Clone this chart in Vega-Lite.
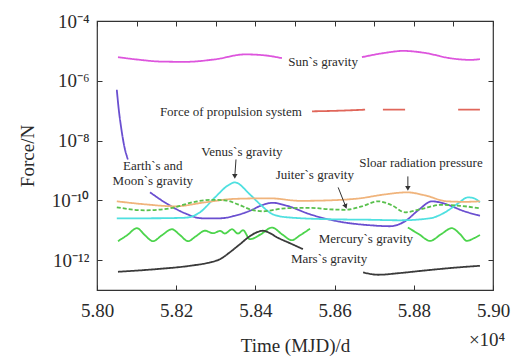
{
  "$schema": "https://vega.github.io/schema/vega-lite/v6.json",
  "width": 396,
  "height": 269,
  "autosize": {"type": "none"},
  "padding": {"left": 97, "top": 21, "right": 24, "bottom": 68},
  "background": "white",
  "config": {
    "view": {"stroke": "#333333", "strokeWidth": 1.2},
    "font": "Liberation Serif",
    "axis": {
      "grid": false,
      "domain": false,
      "tickColor": "#333333",
      "tickWidth": 1,
      "tickSize": -5,
      "labelFont": "Liberation Serif",
      "labelFontSize": 19,
      "labelColor": "#2a2a2a",
      "labelFlush": false,
      "titleFont": "Liberation Serif",
      "titleFontSize": 19,
      "titleFontWeight": "normal",
      "titleColor": "#2a2a2a"
    }
  },
  "datasets": {
    "curves": [
      {"s":"Sun","g":"s1","t":58053,"F":6.17e-6},{"s":"Sun","g":"s1","t":58109,"F":5.01e-6},{"s":"Sun","g":"s1","t":58159,"F":4.40e-6},{"s":"Sun","g":"s1","t":58222,"F":4.30e-6},{"s":"Sun","g":"s1","t":58298,"F":5.21e-6},{"s":"Sun","g":"s1","t":58374,"F":7.64e-6},{"s":"Sun","g":"s1","t":58424,"F":7.08e-6},{"s":"Sun","g":"s1","t":58467,"F":5.71e-6},
      {"s":"Sun","g":"s2","t":58669,"F":6.17e-6},{"s":"Sun","g":"s2","t":58727,"F":8.57e-6},{"s":"Sun","g":"s2","t":58773,"F":1.0e-5},{"s":"Sun","g":"s2","t":58828,"F":8.57e-6},{"s":"Sun","g":"s2","t":58891,"F":5.71e-6},{"s":"Sun","g":"s2","t":58942,"F":5.01e-6},{"s":"Sun","g":"s2","t":58967,"F":5.28e-6},
      {"s":"Propulsion","g":"p1","t":58543,"F":9.5e-8},{"s":"Propulsion","g":"p1","t":58614,"F":1.0e-7},{"s":"Propulsion","g":"p1","t":58677,"F":1.08e-7},
      {"s":"Propulsion","g":"p2","t":58722,"F":1.08e-7},{"s":"Propulsion","g":"p2","t":58778,"F":1.08e-7},
      {"s":"Propulsion","g":"p3","t":58912,"F":1.08e-7},{"s":"Propulsion","g":"p3","t":58967,"F":1.08e-7},
      {"s":"EarthMoon","g":"e1","t":58050,"F":5.0e-7},{"s":"EarthMoon","g":"e1","t":58055,"F":1.08e-7},{"s":"EarthMoon","g":"e1","t":58061,"F":2.71e-8},{"s":"EarthMoon","g":"e1","t":58068,"F":7.36e-9},{"s":"EarthMoon","g":"e1","t":58078,"F":2.33e-9},
      {"s":"EarthMoon","g":"e2","t":58134,"F":1.85e-10},{"s":"EarthMoon","g":"e2","t":58179,"F":7.36e-11},{"s":"EarthMoon","g":"e2","t":58222,"F":3.69e-11},{"s":"EarthMoon","g":"e2","t":58265,"F":2.51e-11},{"s":"EarthMoon","g":"e2","t":58311,"F":2.51e-11},{"s":"EarthMoon","g":"e2","t":58348,"F":3.04e-11},{"s":"EarthMoon","g":"e2","t":58386,"F":4.47e-11},{"s":"EarthMoon","g":"e2","t":58419,"F":7.08e-11},{"s":"EarthMoon","g":"e2","t":58444,"F":8.26e-11},{"s":"EarthMoon","g":"e2","t":58480,"F":6.56e-11},{"s":"EarthMoon","g":"e2","t":58538,"F":3.41e-11},{"s":"EarthMoon","g":"e2","t":58614,"F":1.92e-11},{"s":"EarthMoon","g":"e2","t":58689,"F":1.47e-11},{"s":"EarthMoon","g":"e2","t":58740,"F":1.36e-11},{"s":"EarthMoon","g":"e2","t":58778,"F":2.0e-11},{"s":"EarthMoon","g":"e2","t":58811,"F":4.64e-11},{"s":"EarthMoon","g":"e2","t":58846,"F":9.26e-11},{"s":"EarthMoon","g":"e2","t":58879,"F":7.64e-11},{"s":"EarthMoon","g":"e2","t":58924,"F":4.47e-11},{"s":"EarthMoon","g":"e2","t":58967,"F":3.04e-11},
      {"s":"Venus","g":"v1","t":58050,"F":2.51e-11},{"s":"Venus","g":"v1","t":58134,"F":2.51e-11},{"s":"Venus","g":"v1","t":58222,"F":2.61e-11},{"s":"Venus","g":"v1","t":58260,"F":3.98e-11},{"s":"Venus","g":"v1","t":58298,"F":1.26e-10},{"s":"Venus","g":"v1","t":58331,"F":3.16e-10},{"s":"Venus","g":"v1","t":58348,"F":3.98e-10},{"s":"Venus","g":"v1","t":58386,"F":1.58e-10},{"s":"Venus","g":"v1","t":58412,"F":7.36e-11},{"s":"Venus","g":"v1","t":58444,"F":3.41e-11},{"s":"Venus","g":"v1","t":58480,"F":2.71e-11},{"s":"Venus","g":"v1","t":58588,"F":2.33e-11},{"s":"Venus","g":"v1","t":58689,"F":2.24e-11},{"s":"Venus","g":"v1","t":58765,"F":2.15e-11},{"s":"Venus","g":"v1","t":58841,"F":2.51e-11},{"s":"Venus","g":"v1","t":58879,"F":3.98e-11},{"s":"Venus","g":"v1","t":58912,"F":7.94e-11},{"s":"Venus","g":"v1","t":58937,"F":1.26e-10},{"s":"Venus","g":"v1","t":58952,"F":1.17e-10},{"s":"Venus","g":"v1","t":58967,"F":8.58e-11},
      {"s":"Solar","g":"r1","t":58050,"F":9.26e-11},{"s":"Solar","g":"r1","t":58121,"F":7.36e-11},{"s":"Solar","g":"r1","t":58197,"F":6.31e-11},{"s":"Solar","g":"r1","t":58273,"F":8.58e-11},{"s":"Solar","g":"r1","t":58348,"F":1.12e-10},{"s":"Solar","g":"r1","t":58437,"F":1.17e-10},{"s":"Solar","g":"r1","t":58513,"F":9.62e-11},{"s":"Solar","g":"r1","t":58588,"F":1.0e-10},{"s":"Solar","g":"r1","t":58664,"F":1.17e-10},{"s":"Solar","g":"r1","t":58727,"F":1.58e-10},{"s":"Solar","g":"r1","t":58783,"F":1.85e-10},{"s":"Solar","g":"r1","t":58828,"F":1.47e-10},{"s":"Solar","g":"r1","t":58884,"F":9.26e-11},{"s":"Solar","g":"r1","t":58929,"F":8.91e-11},{"s":"Solar","g":"r1","t":58967,"F":9.26e-11},
      {"s":"Jupiter","g":"j1","t":58050,"F":5.85e-11},{"s":"Jupiter","g":"j1","t":58121,"F":4.64e-11},{"s":"Jupiter","g":"j1","t":58184,"F":5.41e-11},{"s":"Jupiter","g":"j1","t":58247,"F":8.91e-11},{"s":"Jupiter","g":"j1","t":58285,"F":1.04e-10},{"s":"Jupiter","g":"j1","t":58323,"F":1.0e-10},{"s":"Jupiter","g":"j1","t":58356,"F":7.36e-11},{"s":"Jupiter","g":"j1","t":58386,"F":5.01e-11},{"s":"Jupiter","g":"j1","t":58419,"F":4.30e-11},{"s":"Jupiter","g":"j1","t":58475,"F":5.41e-11},{"s":"Jupiter","g":"j1","t":58538,"F":5.62e-11},{"s":"Jupiter","g":"j1","t":58588,"F":5.01e-11},{"s":"Jupiter","g":"j1","t":58626,"F":4.82e-11},{"s":"Jupiter","g":"j1","t":58669,"F":6.31e-11},{"s":"Jupiter","g":"j1","t":58710,"F":9.26e-11},{"s":"Jupiter","g":"j1","t":58745,"F":6.81e-11},{"s":"Jupiter","g":"j1","t":58778,"F":3.98e-11},{"s":"Jupiter","g":"j1","t":58816,"F":5.01e-11},{"s":"Jupiter","g":"j1","t":58871,"F":7.08e-11},{"s":"Jupiter","g":"j1","t":58917,"F":6.56e-11},{"s":"Jupiter","g":"j1","t":58967,"F":5.41e-11},
      {"s":"Mercury","g":"m1","t":58053,"F":4.30e-12},{"s":"Mercury","g":"m1","t":58076,"F":6.81e-12},{"s":"Mercury","g":"m1","t":58101,"F":1.17e-11},{"s":"Mercury","g":"m1","t":58121,"F":6.81e-12},{"s":"Mercury","g":"m1","t":58141,"F":4.30e-12},{"s":"Mercury","g":"m1","t":58164,"F":6.81e-12},{"s":"Mercury","g":"m1","t":58189,"F":1.08e-11},{"s":"Mercury","g":"m1","t":58210,"F":6.81e-12},{"s":"Mercury","g":"m1","t":58230,"F":4.30e-12},{"s":"Mercury","g":"m1","t":58250,"F":6.31e-12},{"s":"Mercury","g":"m1","t":58273,"F":9.62e-12},{"s":"Mercury","g":"m1","t":58293,"F":7.94e-12},{"s":"Mercury","g":"m1","t":58311,"F":9.48e-12},{"s":"Mercury","g":"m1","t":58323,"F":7.76e-12},{"s":"Mercury","g":"m1","t":58341,"F":1.08e-11},{"s":"Mercury","g":"m1","t":58356,"F":7.76e-12},{"s":"Mercury","g":"m1","t":58369,"F":1.0e-11},{"s":"Mercury","g":"m1","t":58386,"F":5.01e-12},{"s":"Mercury","g":"m1","t":58414,"F":7.36e-12},{"s":"Mercury","g":"m1","t":58442,"F":1.23e-11},{"s":"Mercury","g":"m1","t":58467,"F":7.36e-12},{"s":"Mercury","g":"m1","t":58492,"F":4.64e-12},{"s":"Mercury","g":"m1","t":58513,"F":6.81e-12},{"s":"Mercury","g":"m1","t":58538,"F":1.12e-11},
      {"s":"Mercury","g":"m2","t":58785,"F":1.23e-11},{"s":"Mercury","g":"m2","t":58813,"F":7.36e-12},{"s":"Mercury","g":"m2","t":58841,"F":4.40e-12},{"s":"Mercury","g":"m2","t":58869,"F":7.36e-12},{"s":"Mercury","g":"m2","t":58896,"F":1.17e-11},{"s":"Mercury","g":"m2","t":58917,"F":7.36e-12},{"s":"Mercury","g":"m2","t":58934,"F":4.40e-12},{"s":"Mercury","g":"m2","t":58952,"F":5.41e-12},{"s":"Mercury","g":"m2","t":58967,"F":6.97e-12},
      {"s":"Mars","g":"a1","t":58053,"F":4.07e-13},{"s":"Mars","g":"a1","t":58151,"F":5.01e-13},{"s":"Mars","g":"a1","t":58235,"F":6.46e-13},{"s":"Mars","g":"a1","t":58285,"F":8.38e-13},{"s":"Mars","g":"a1","t":58311,"F":1.08e-12},{"s":"Mars","g":"a1","t":58336,"F":1.85e-12},{"s":"Mars","g":"a1","t":58361,"F":3.41e-12},{"s":"Mars","g":"a1","t":58386,"F":6.31e-12},{"s":"Mars","g":"a1","t":58404,"F":8.58e-12},{"s":"Mars","g":"a1","t":58419,"F":9.62e-12},{"s":"Mars","g":"a1","t":58437,"F":7.94e-12},{"s":"Mars","g":"a1","t":58454,"F":5.85e-12},{"s":"Mars","g":"a1","t":58487,"F":3.69e-12},{"s":"Mars","g":"a1","t":58520,"F":2.33e-12},
      {"s":"Mars","g":"a2","t":58672,"F":3.89e-13},{"s":"Mars","g":"a2","t":58710,"F":3.24e-13},{"s":"Mars","g":"a2","t":58765,"F":3.69e-13},{"s":"Mars","g":"a2","t":58821,"F":4.40e-13},{"s":"Mars","g":"a2","t":58891,"F":5.41e-13},{"s":"Mars","g":"a2","t":58967,"F":6.46e-13}
    ],
    "labels": [
      {"text":"Sun`s gravity","t":58571,"F":4.3e-6},
      {"text":"Force of propulsion system","t":58338,"F":9.26e-8},
      {"text":"Earth`s and","t":58141,"F":1.36e-9},
      {"text":"Moon`s gravity","t":58141,"F":4.3e-10},
      {"text":"Venus`s gravity","t":58366,"F":4.3e-9},
      {"text":"Juiter`s gravity","t":58550,"F":6.81e-10},
      {"text":"Sloar radiation pressure","t":58818,"F":1.71e-9},
      {"text":"Mercury`s gravity","t":58679,"F":5.01e-12},
      {"text":"Mars`s gravity","t":58586,"F":1.08e-12}
    ],
    "arrows": [
      {"a":"Venus","t":58351,"F":2.33e-9,"t2":58348,"F2":6.31e-10},
      {"a":"Solar","t":58785,"F":6.31e-10,"t2":58785,"F2":2.51e-10},
      {"a":"Jupiter","t":58609,"F":2.71e-10,"t2":58628,"F2":6.21e-11}
    ],
    "exponent": [
      {"text":"×10⁴","t":58985,"F":2.1e-15}
    ],
    "frame": [
      {"t":58000,"F":1e-13},{"t":59000,"F":1e-4}
    ]
  },
  "layer": [
    {
      "layer": [
        {
          "data": {"name": "curves"},
          "mark": {"type": "line", "interpolate": "monotone", "strokeWidth": 1.8},
          "encoding": {
            "x": {
              "field": "t", "type": "quantitative",
              "scale": {"domain": [58000, 59000], "nice": false, "zero": false},
              "axis": {
                "orient": "bottom",
                "values": [58000,58100,58200,58300,58400,58500,58600,58700,58800,58900,59000],
                "labelExpr": "datum.value % 200 == 0 ? format(datum.value / 10000, '.2f') : ''",
                "labelPadding": 16,
                "title": "Time (MJD)/d",
                "titlePadding": 16
              }
            },
            "y": {
              "field": "F", "type": "quantitative",
              "scale": {"type": "log", "domain": [1e-13, 1e-4], "nice": false},
              "axis": {
                "orient": "left",
                "values": [1e-12, 1e-10, 1e-8, 1e-6, 1e-4],
                "labelExpr": "datum.value > 5e-5 ? '10⁻⁴' : datum.value > 5e-7 ? '10⁻⁶' : datum.value > 5e-9 ? '10⁻⁸' : datum.value > 5e-11 ? '10⁻¹⁰' : '10⁻¹²'",
                "labelPadding": 13,
                "title": "Force/N",
                "titlePadding": 14
              }
            },
            "color": {
              "field": "s", "type": "nominal", "legend": null,
              "scale": {
                "domain": ["Sun","Propulsion","EarthMoon","Venus","Solar","Jupiter","Mercury","Mars"],
                "range": ["#dd55dd","#e0665a","#6a4fd0","#4fe0e0","#f0b47c","#58c04c","#4cd44c","#3a3a3a"]
              }
            },
            "strokeDash": {
              "field": "s", "type": "nominal", "legend": null,
              "scale": {
                "domain": ["Sun","Propulsion","EarthMoon","Venus","Solar","Jupiter","Mercury","Mars"],
                "range": [[1,0],[1,0],[1,0],[1,0],[1,0],[4,2],[1,0],[1,0]]
              }
            },
            "detail": {"field": "g"}
          }
        },
        {
          "data": {"name": "arrows"},
          "mark": {"type": "rule", "color": "#333333", "strokeWidth": 1},
          "encoding": {
            "x": {"field": "t", "type": "quantitative"},
            "y": {"field": "F", "type": "quantitative"},
            "x2": {"field": "t2"},
            "y2": {"field": "F2"}
          }
        },
        {
          "data": {"name": "arrows"},
          "transform": [{"filter": "datum.a != 'Jupiter'"}],
          "mark": {"type": "point", "shape": "triangle-down", "filled": true, "color": "#333333", "size": 30, "opacity": 1},
          "encoding": {
            "x": {"field": "t2", "type": "quantitative"},
            "y": {"field": "F2", "type": "quantitative"}
          }
        },
        {
          "data": {"name": "arrows"},
          "transform": [{"filter": "datum.a == 'Jupiter'"}],
          "mark": {"type": "point", "shape": "triangle-down", "filled": true, "color": "#333333", "size": 30, "opacity": 1, "angle": -22},
          "encoding": {
            "x": {"field": "t2", "type": "quantitative"},
            "y": {"field": "F2", "type": "quantitative"}
          }
        },
        {
          "data": {"name": "labels"},
          "mark": {"type": "text", "font": "Liberation Serif", "fontSize": 13, "color": "#2a2a2a", "align": "center", "baseline": "middle"},
          "encoding": {
            "x": {"field": "t", "type": "quantitative"},
            "y": {"field": "F", "type": "quantitative"},
            "text": {"field": "text"}
          }
        },
        {
          "data": {"name": "exponent"},
          "mark": {"type": "text", "font": "Liberation Serif", "fontSize": 19, "color": "#2a2a2a", "align": "center", "baseline": "middle"},
          "encoding": {
            "x": {"field": "t", "type": "quantitative"},
            "y": {"field": "F", "type": "quantitative"},
            "text": {"field": "text"}
          }
        }
      ]
    },
    {
      "data": {"name": "frame"},
      "mark": {"type": "point", "opacity": 0},
      "encoding": {
        "x": {
          "field": "t", "type": "quantitative",
          "scale": {"domain": [58000, 59000], "nice": false, "zero": false},
          "axis": {
            "orient": "top",
            "values": [58000,58100,58200,58300,58400,58500,58600,58700,58800,58900,59000],
            "labels": false,
            "title": null
          }
        },
        "y": {
          "field": "F", "type": "quantitative",
          "scale": {"type": "log", "domain": [1e-13, 1e-4], "nice": false},
          "axis": {
            "orient": "right",
            "values": [1e-12, 1e-10, 1e-8, 1e-6, 1e-4],
            "labels": false,
            "title": null
          }
        }
      }
    }
  ],
  "resolve": {"scale": {"x": "independent", "y": "independent"}, "axis": {"x": "independent", "y": "independent"}}
}
